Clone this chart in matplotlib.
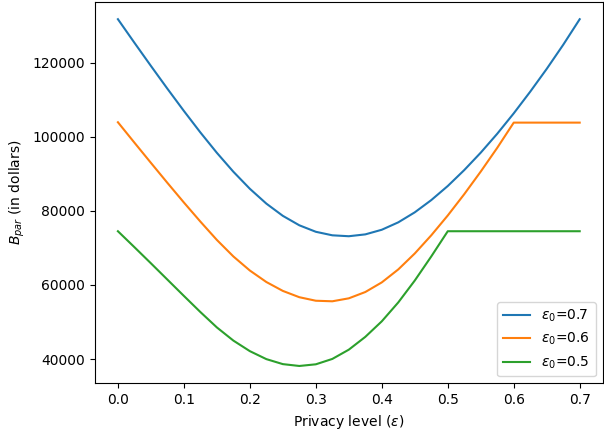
import matplotlib
matplotlib.use("Agg")
import matplotlib.pyplot as plt

# privacy level grid (every 0.025)
eps = [0.0, 0.025, 0.05, 0.075, 0.1, 0.125, 0.15, 0.175, 0.2, 0.225,
       0.25, 0.275, 0.3, 0.325, 0.35, 0.375, 0.4, 0.425, 0.45, 0.475,
       0.5, 0.525, 0.55, 0.575, 0.6, 0.625, 0.65, 0.675, 0.7]

b_par_07 = [131700, 125350, 119100, 112950, 106950, 101150, 95650, 90550, 85950, 81950,
            78650, 76100, 74350, 73400, 73150, 73650, 74900, 76900, 79600, 82900,
            86700, 91000, 95700, 100800, 106300, 112150, 118300, 124800, 131700]

b_par_06 = [103900, 98400, 92950, 87550, 82250, 77100, 72150, 67700, 63900, 60800,
            58400, 56700, 55750, 55600, 56400, 58100, 60700, 64200, 68500, 73400,
            78750, 84500, 90600, 97000, 103800, 103800, 103800, 103800, 103800]

b_par_05 = [74500, 70200, 65850, 61450, 57050, 52700, 48550, 45000, 42150, 40000,
            38650, 38150, 38600, 40050, 42550, 46000, 50200, 55300, 61200, 67700,
            74500, 74500, 74500, 74500, 74500, 74500, 74500, 74500, 74500]

series = [
    (r"$\varepsilon_0$=0.7", b_par_07),
    (r"$\varepsilon_0$=0.6", b_par_06),
    (r"$\varepsilon_0$=0.5", b_par_05),
]

fig = plt.figure(figsize=(6.04, 4.32), dpi=100)
ax = fig.add_axes([0.157, 0.1127, 0.841, 0.883])

for label, values in series:
    ax.plot(eps, values, label=label)

ax.set_xlabel(r"Privacy level ($\varepsilon$)")
ax.set_ylabel(r"$B_{par}$ (in dollars)")
ax.legend(loc="lower right")

fig.savefig("out.png", dpi=100)
